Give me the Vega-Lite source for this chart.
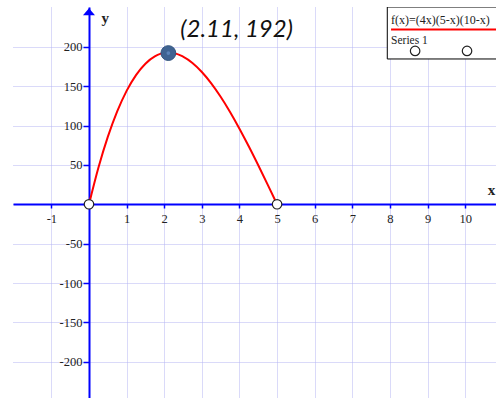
{
  "$schema": "https://vega.github.io/schema/vega-lite/v6.json",
  "width": 496,
  "height": 398,
  "autosize": {"type": "fit", "contains": "padding"},
  "padding": {"left": 13, "top": 7, "right": 0, "bottom": 0},
  "background": "white",
  "config": {"view": {"stroke": null}},
  "datasets": {
    "curve": [
      {"x": 0, "y": 0}, {"x": 0.25, "y": 46.31}, {"x": 0.5, "y": 85.5}, {"x": 0.75, "y": 117.94},
      {"x": 1, "y": 144}, {"x": 1.25, "y": 164.06}, {"x": 1.5, "y": 178.5}, {"x": 1.75, "y": 187.69},
      {"x": 2, "y": 192}, {"x": 2.25, "y": 191.81}, {"x": 2.5, "y": 187.5}, {"x": 2.75, "y": 179.44},
      {"x": 3, "y": 168}, {"x": 3.25, "y": 153.56}, {"x": 3.5, "y": 136.5}, {"x": 3.75, "y": 117.19},
      {"x": 4, "y": 96}, {"x": 4.25, "y": 73.31}, {"x": 4.5, "y": 49.5}, {"x": 4.75, "y": 24.94},
      {"x": 5, "y": 0}
    ],
    "endpoints": [{"x": 0, "y": 0}, {"x": 5, "y": 0}],
    "peak": [{"x": 2.11, "y": 192, "label": "(2.11, 192)"}],
    "legendbox": [{"x": 7.93, "x2": 11.5, "y": 250.5, "y2": 184.5}],
    "legendline": [{"x": 8.03, "x2": 11.5, "y": 222}],
    "legendtext": [
      {"x": 8.03, "y": 229.5, "label": "f(x)=(4x)(5-x)(10-x)", "size": 12},
      {"x": 8.03, "y": 203, "label": "Series 1", "size": 11.5}
    ],
    "legendcircles": [{"x": 8.67, "y": 194.7}, {"x": 10.05, "y": 194.7}],
    "axisnames": [
      {"x": 0.43, "y": 236, "label": "y"},
      {"x": 10.7, "y": 18, "label": "x"}
    ],
    "arrow": [{"x": 0, "y": 244.5}]
  },
  "layer": [
    {
      "data": {"name": "curve"},
      "mark": {"type": "line", "color": "#ff0000", "strokeWidth": 2, "interpolate": "monotone"},
      "encoding": {
        "x": {
          "field": "x", "type": "quantitative",
          "scale": {"domain": [-2.02, 10.82], "nice": false, "zero": false},
          "axis": {
            "title": null, "orient": "bottom", "offset": -194,
            "values": [-1, 0, 1, 2, 3, 4, 5, 6, 7, 8, 9, 10],
            "labelExpr": "datum.value == 0 ? '' : toString(datum.value)",
            "domainColor": "#0000ff", "domainWidth": 2,
            "tickColor": "#0000ff", "tickWidth": 1.5, "tickSize": 4,
            "labelPadding": 4, "labelFont": "Liberation Serif", "labelFontSize": 12.5, "labelColor": "#222222",
            "grid": true, "gridColor": "#b4b4f2", "gridDash": [1, 1], "gridWidth": 1
          }
        },
        "y": {
          "field": "y", "type": "quantitative",
          "scale": {"domain": [-246, 250.5], "nice": false, "zero": false},
          "axis": {
            "title": null, "orient": "left", "offset": -76,
            "values": [-200, -150, -100, -50, 0, 50, 100, 150, 200],
            "labelExpr": "datum.value == 0 ? '' : toString(datum.value)",
            "domainColor": "#0000ff", "domainWidth": 2,
            "tickColor": "#0000ff", "tickWidth": 1.5, "tickSize": 6,
            "labelPadding": 1, "labelFont": "Liberation Serif", "labelFontSize": 12.5, "labelColor": "#222222",
            "grid": true, "gridColor": "#b4b4f2", "gridDash": [1, 1], "gridWidth": 1
          }
        }
      }
    },
    {
      "data": {"name": "endpoints"},
      "mark": {"type": "point", "filled": true, "fill": "white", "stroke": "#222222", "strokeWidth": 1.2, "size": 90, "opacity": 1},
      "encoding": {"x": {"field": "x", "type": "quantitative"}, "y": {"field": "y", "type": "quantitative"}}
    },
    {
      "data": {"name": "peak"},
      "mark": {"type": "point", "filled": true, "fill": "#3f6392", "stroke": "#34557f", "strokeWidth": 1, "size": 220, "opacity": 1},
      "encoding": {"x": {"field": "x", "type": "quantitative"}, "y": {"field": "y", "type": "quantitative"}}
    },
    {
      "data": {"name": "peak"},
      "mark": {"type": "point", "filled": true, "fill": "#5a82b8", "size": 14, "opacity": 1},
      "encoding": {"x": {"field": "x", "type": "quantitative"}, "y": {"field": "y", "type": "quantitative"}}
    },
    {
      "data": {"name": "peak"},
      "mark": {"type": "text", "font": "Lato", "fontStyle": "italic", "fontSize": 24, "color": "#111111", "align": "left", "baseline": "alphabetic", "dx": 12, "dy": -16},
      "encoding": {"x": {"field": "x", "type": "quantitative"}, "y": {"field": "y", "type": "quantitative"}, "text": {"field": "label"}}
    },
    {
      "data": {"name": "arrow"},
      "mark": {"type": "point", "shape": "M-1,0.58L0,-0.58L1,0.58Z", "filled": true, "color": "#0000ff", "size": 144, "opacity": 1},
      "encoding": {"x": {"field": "x", "type": "quantitative"}, "y": {"field": "y", "type": "quantitative"}}
    },
    {
      "data": {"name": "axisnames"},
      "mark": {"type": "text", "font": "Liberation Serif", "fontWeight": "bold", "fontSize": 15, "color": "#222222", "align": "center", "baseline": "middle"},
      "encoding": {"x": {"field": "x", "type": "quantitative"}, "y": {"field": "y", "type": "quantitative"}, "text": {"field": "label"}}
    },
    {
      "data": {"name": "legendbox"},
      "mark": {"type": "rect", "fill": "white", "stroke": "#000000", "strokeWidth": 1, "clip": true},
      "encoding": {"x": {"field": "x", "type": "quantitative"}, "x2": {"field": "x2"}, "y": {"field": "y", "type": "quantitative"}, "y2": {"field": "y2"}}
    },
    {
      "data": {"name": "legendline"},
      "mark": {"type": "rule", "color": "#ff0000", "strokeWidth": 2, "clip": true},
      "encoding": {"x": {"field": "x", "type": "quantitative"}, "x2": {"field": "x2"}, "y": {"field": "y", "type": "quantitative"}}
    },
    {
      "data": {"name": "legendtext"},
      "mark": {"type": "text", "font": "Liberation Serif", "color": "#222222", "align": "left", "baseline": "alphabetic", "clip": true},
      "encoding": {"x": {"field": "x", "type": "quantitative"}, "y": {"field": "y", "type": "quantitative"}, "text": {"field": "label"}, "size": {"field": "size", "type": "quantitative", "scale": null}}
    },
    {
      "data": {"name": "legendcircles"},
      "mark": {"type": "point", "filled": true, "fill": "white", "stroke": "#222222", "strokeWidth": 1.2, "size": 90, "opacity": 1},
      "encoding": {"x": {"field": "x", "type": "quantitative"}, "y": {"field": "y", "type": "quantitative"}}
    }
  ]
}
